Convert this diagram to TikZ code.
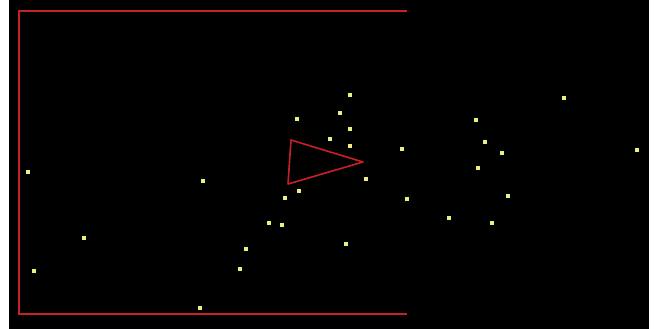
\documentclass[tikz,border=0pt]{standalone}
\usepackage{tikz}
\usepackage[dvipsnames]{xcolor}
\definecolor{ArenaRed}{RGB}{200, 32, 38}
\definecolor{DotYellow}{RGB}{238, 238, 130}

\begin{document}
\begin{tikzpicture}[x=1pt, y=-1pt]
    \useasboundingbox (0,0) rectangle (654,329);
    % Background
    \fill[white] (0,0) rectangle (654,329);
    \fill[black] (9,0) rectangle (649,329);
    % Open boundary
    \draw[ArenaRed, line width=2pt] (407,11) -- (19,11) -- (19,314) -- (407,314);
    % Triangle
    \draw[ArenaRed, line width=1.6pt, line join=round] (291,140) -- (363,162) -- (288,184) -- cycle;
    % Dots
    \foreach \px/\py in {350/95, 340/113, 297/119, 350/129, 330/139, 350/146,
        402/149, 564/98, 476/120, 485/142, 502/153, 637/150, 478/168,
        407/199, 508/196, 449/218, 492/223, 28/172, 203/181, 84/238,
        34/271, 200/308, 366/179, 299/191, 285/198, 269/223, 282/225,
        346/244, 246/249, 240/269} {
        \fill[DotYellow] (\px-2,\py-2) rectangle (\px+2,\py+2);
    }
\end{tikzpicture}
\end{document}
